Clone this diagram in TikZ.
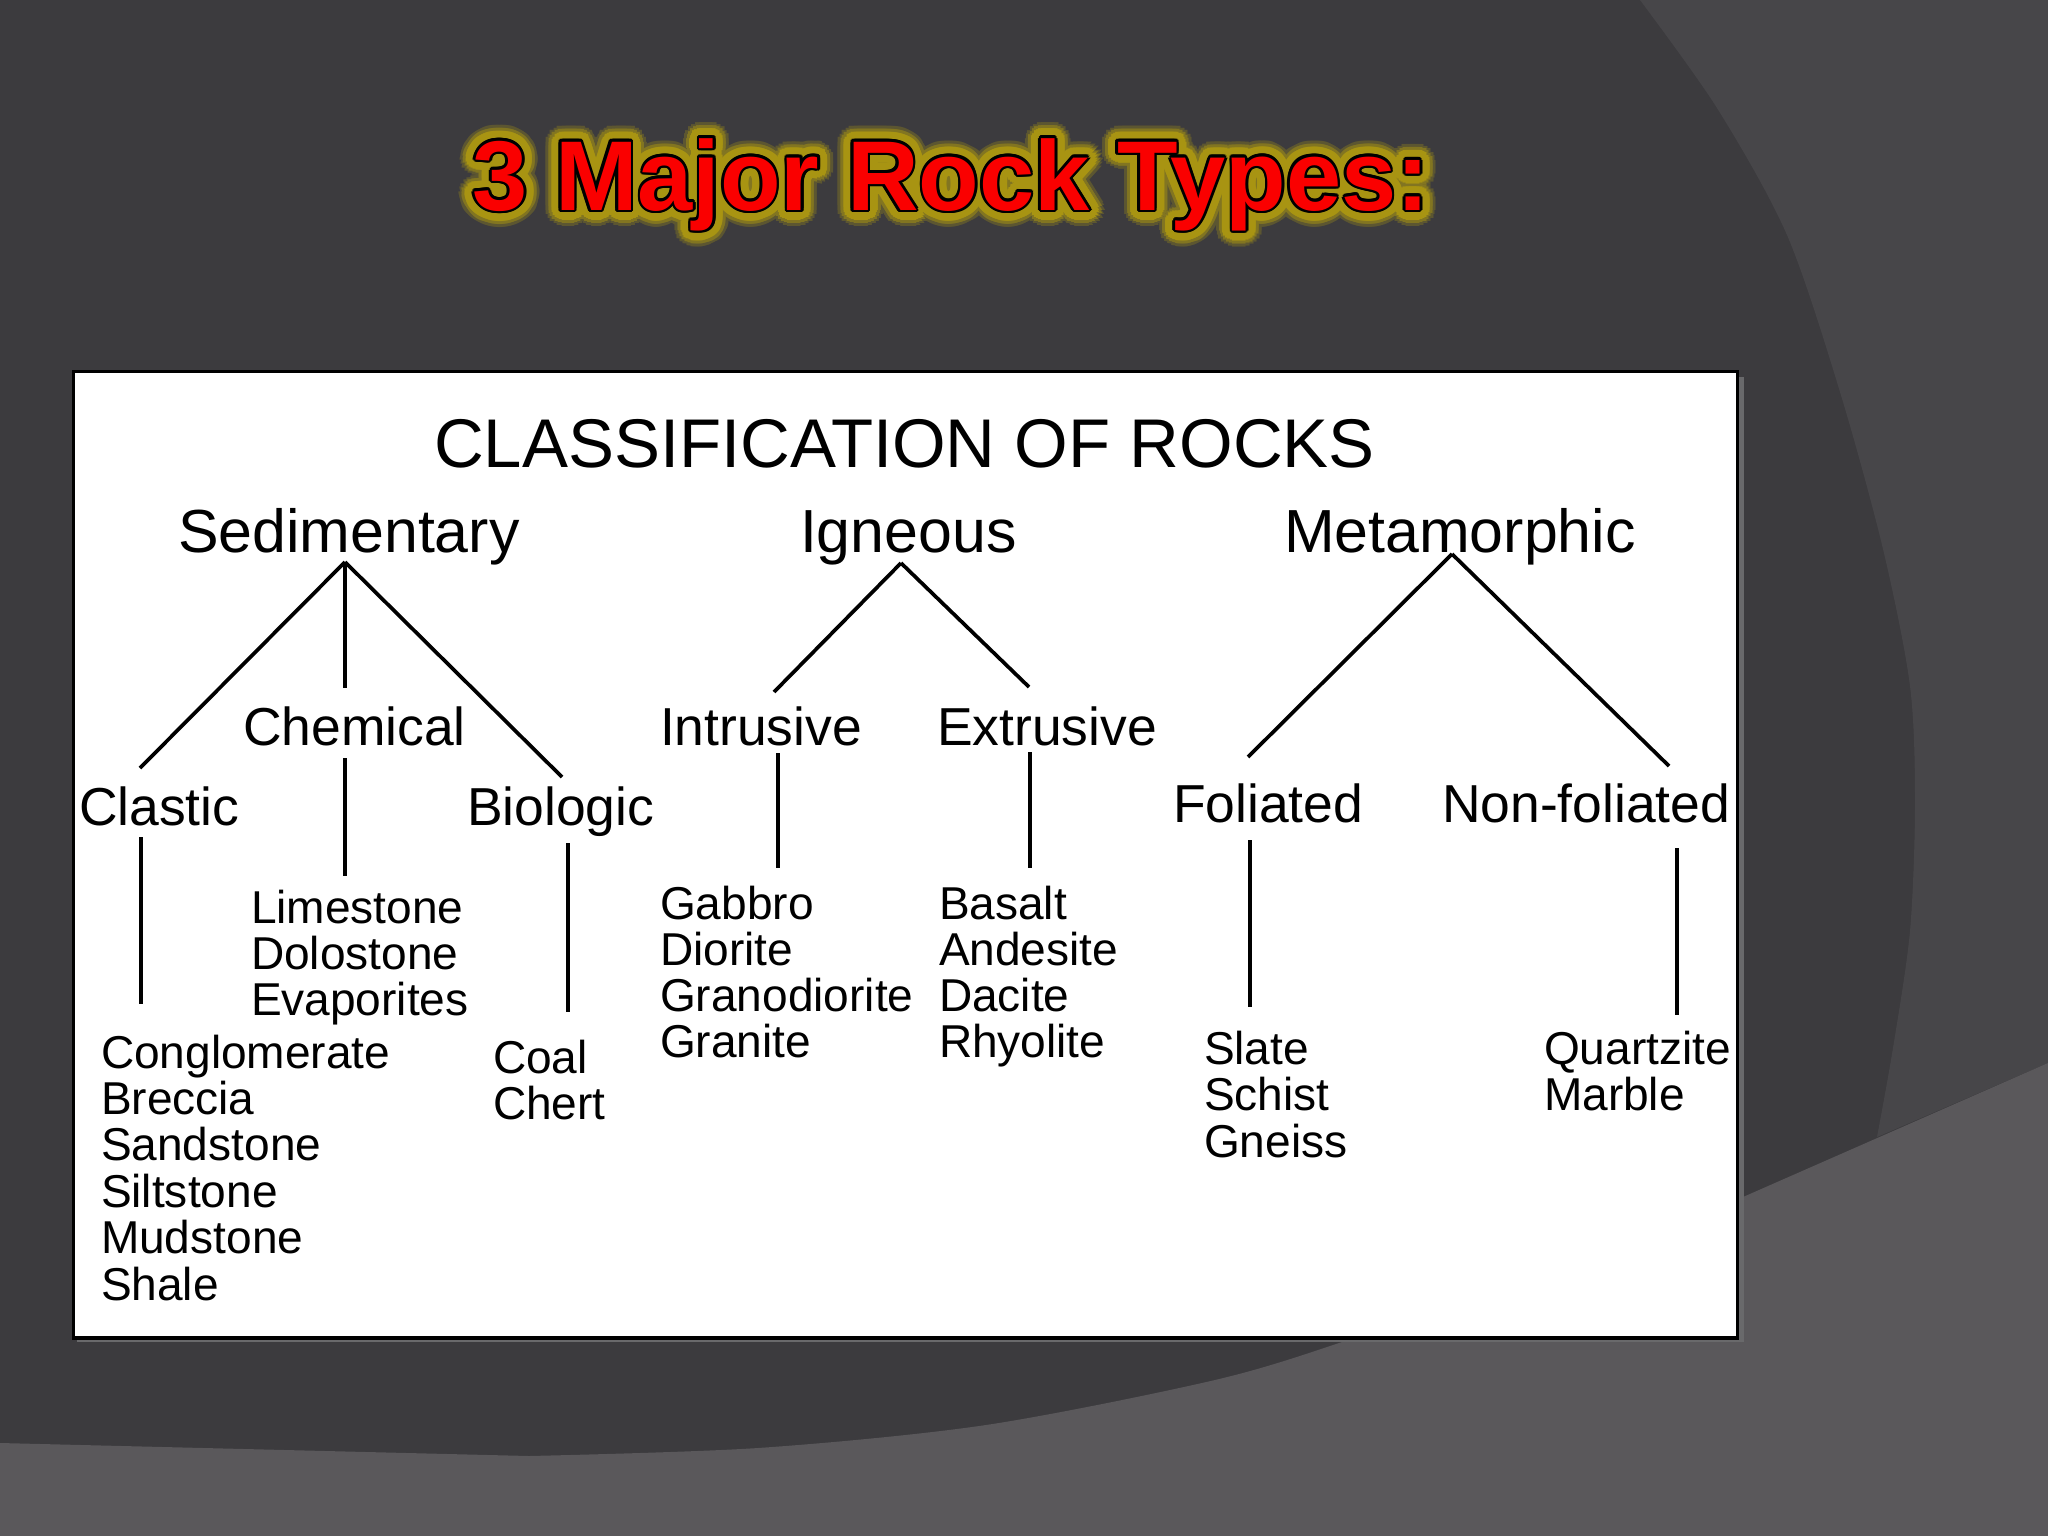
\documentclass[tikz,border=0pt]{standalone}
\usepackage{fontspec}
\setmainfont{Liberation Sans}
\usetikzlibrary{calc}

\definecolor{slatedark}{RGB}{60,59,62}
\definecolor{slatemid}{RGB}{71,70,73}
\definecolor{slatelight}{RGB}{90,88,91}
\definecolor{glowcol}{RGB}{168,148,18}
\definecolor{titlered}{RGB}{250,0,0}
\definecolor{boxshadow}{RGB}{105,105,107}

\begin{document}
\begin{tikzpicture}[
        x=0.01cm, y=-0.01cm,
        every node/.style={inner sep=0pt, outer sep=0pt, anchor=base west},
        titletext/.style={anchor=base, font=\fontsize{28.2}{34}\selectfont\bfseries},
        heading/.style={font=\fontsize{19.6}{24}\selectfont},
        group/.style={font=\fontsize{17.3}{21}\selectfont},
        subgroup/.style={font=\fontsize{15.2}{18}\selectfont},
        rock/.style={font=\fontsize{13.1}{16}\selectfont},
        branch/.style={line width=1.05pt, black}
    ]

    \useasboundingbox (0,0) rectangle (2048,1536);

    % slide background
    \fill[slatedark] (0,0) rectangle (2048,1536);
    \fill[slatemid] plot[smooth] coordinates {(1640,0) (1717,108) (1787,235)
        (1840,392) (1883,549) (1910,686) (1915,803) (1910,931) (1893,1048)
        (1877,1137)} -- (2048,1063) -- (2048,0) -- cycle;
    \fill[slatelight] (0,1443) -- plot[smooth] coordinates {(529,1456)
        (758,1448) (986,1425) (1215,1380) (1345,1341) (1500,1285)}
        -- (1743,1197) -- (2048,1063) -- (2048,1536) -- (0,1536) -- cycle;

    % title with glow and outline
    \foreach \r/\c in {16/glowcol!30!slatedark, 13/glowcol!65!slatedark,
                       10/glowcol, 6/glowcol, 3/glowcol}
        \foreach \a in {0,15,...,345}
            \node[titletext, text=\c] (glow-\r-\a) at ($(951,210)+(\a:\r)$)
                {3 Major Rock Types:};
    \foreach \a in {0,30,...,330}
        \node[titletext, text=black] (edge-\a) at ($(951,210)+(\a:2.6)$)
            {3 Major Rock Types:};
    \node[titletext, text=titlered] (title) at (951,210) {3 Major Rock Types:};

    % chart frame
    \fill[boxshadow] (77,377) rectangle (1744,1342);
    \draw[line width=0.95pt, fill=white] (73.5,371.5) rectangle (1737.5,1338);

    \node[heading] (heading) at (434,467) {CLASSIFICATION OF ROCKS};

    \node[group] (sed) at (178,552) {Sedimentary};
    \node[group] (ign) at (800,552) {Igneous};
    \node[group] (met) at (1284,552) {Metamorphic};

    \node[subgroup] (chem) at (243,745) {Chemical};
    \node[subgroup] (clas) at (79,825) {Clastic};
    \node[subgroup] (bio) at (467,825) {Biologic};
    \node[subgroup] (intr) at (660,745) {Intrusive};
    \node[subgroup] (extr) at (937,745) {Extrusive};
    \node[subgroup] (fol) at (1173,822) {Foliated};
    \node[subgroup] (nonfol) at (1442,822) {Non-foliated};

    % rock names
    \foreach \rockname [count=\i from 0] in {Conglomerate,Breccia,Sandstone,Siltstone,Mudstone,Shale}
        \node[rock] (clas-\i) at (101,{1068+46.4*\i}) {\rockname};
    \foreach \rockname [count=\i from 0] in {Limestone,Dolostone,Evaporites}
        \node[rock] (chem-\i) at (251,{923+46*\i}) {\rockname};
    \foreach \rockname [count=\i from 0] in {Coal,Chert}
        \node[rock] (bio-\i) at (493,{1073+46*\i}) {\rockname};
    \foreach \rockname [count=\i from 0] in {Gabbro,Diorite,Granodiorite,Granite}
        \node[rock] (intr-\i) at (660,{919+46*\i}) {\rockname};
    \foreach \rockname [count=\i from 0] in {Basalt,Andesite,Dacite,Rhyolite}
        \node[rock] (extr-\i) at (939,{919+46*\i}) {\rockname};
    \foreach \rockname [count=\i from 0] in {Slate,Schist,Gneiss}
        \node[rock] (fol-\i) at (1204,{1064+46.5*\i}) {\rockname};
    \foreach \rockname [count=\i from 0] in {Quartzite,Marble}
        \node[rock] (nonfol-\i) at (1544,{1064+46*\i}) {\rockname};

    % branch ends
    \coordinate (sed-fork) at (345,562);
    \coordinate (clas-top) at (140,768);
    \coordinate (chem-top) at (345,688);
    \coordinate (bio-top) at (562,777);
    \coordinate (clas-a) at (141,837);
    \coordinate (clas-b) at (141,1004);
    \coordinate (chem-a) at (345,758);
    \coordinate (chem-b) at (345,876);
    \coordinate (bio-a) at (568,843);
    \coordinate (bio-b) at (568,1012);

    \coordinate (ign-fork) at (901,563);
    \coordinate (intr-top) at (774,692);
    \coordinate (extr-top) at (1029,687);
    \coordinate (intr-a) at (778,753);
    \coordinate (intr-b) at (778,868);
    \coordinate (extr-a) at (1030,752);
    \coordinate (extr-b) at (1030,868);

    \coordinate (met-fork) at (1452,554);
    \coordinate (fol-top) at (1248,757);
    \coordinate (nonfol-top) at (1669,766);
    \coordinate (fol-a) at (1250,840);
    \coordinate (fol-b) at (1250,1007);
    \coordinate (nonfol-a) at (1677,848);
    \coordinate (nonfol-b) at (1677,1015);

    \draw[branch] (sed-fork) -- (clas-top);
    \draw[branch] (sed-fork) -- (chem-top);
    \draw[branch] (sed-fork) -- (bio-top);
    \draw[branch] (clas-a) -- (clas-b);
    \draw[branch] (chem-a) -- (chem-b);
    \draw[branch] (bio-a) -- (bio-b);

    \draw[branch] (ign-fork) -- (intr-top);
    \draw[branch] (ign-fork) -- (extr-top);
    \draw[branch] (intr-a) -- (intr-b);
    \draw[branch] (extr-a) -- (extr-b);

    \draw[branch] (met-fork) -- (fol-top);
    \draw[branch] (met-fork) -- (nonfol-top);
    \draw[branch] (fol-a) -- (fol-b);
    \draw[branch] (nonfol-a) -- (nonfol-b);

\end{tikzpicture}
\end{document}
